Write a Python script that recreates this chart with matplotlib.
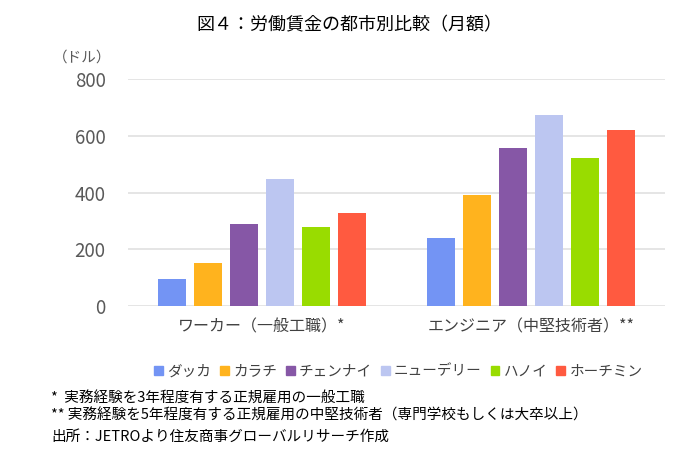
import numpy as np
import matplotlib.pyplot as plt
from matplotlib.patches import Patch

plt.rcParams['font.family'] = ['Noto Sans CJK JP', 'DejaVu Sans']

# データ
categories = ['ワーカー（一般工職）*', 'エンジニア（中堅技術者）**']
cities = ['ダッカ', 'カラチ', 'チェンナイ', 'ニューデリー', 'ハノイ', 'ホーチミン']
worker = [94, 150, 288, 448, 277, 328]
engineer = [240, 390, 556, 672, 520, 619]
colors = ['#7394F4', '#FFB31E', '#8657A6', '#BCC6F1', '#99DC00', '#FF5A40']
yticks = [0, 200, 400, 600, 800]

fig = plt.figure(figsize=(6.98, 4.49), dpi=100)
ax = fig.add_axes([0.183, 0.3185, 0.770, 0.5055])

x = np.arange(len(categories))
width = 0.104
pitch = 0.134
for i, c in enumerate(cities):
    vals = [worker[i], engineer[i]]
    ax.bar(x + (i - 2.5) * pitch, vals, width, color=colors[i], label=c, zorder=3)

ax.set_xlim(-0.5, 1.5)
ax.set_ylim(0, 800)
ax.set_yticks(yticks)
ax.set_yticklabels([str(v) for v in yticks], fontsize=13.5, color='#595959')
ax.set_xticks(x)
ax.set_xticklabels(categories, fontsize=11.5, color='#404040')
ax.tick_params(axis='both', length=0)
ax.tick_params(axis='x', pad=9)
ax.tick_params(axis='y', pad=16)
ax.grid(axis='y', color='#E0E0E0', lw=1.2, zorder=0)
for s in ax.spines.values():
    s.set_visible(False)

fig.text(0.5, 0.944, '図４：労働賃金の都市別比較（月額）', ha='center', va='center', fontsize=13)
fig.text(0.118, 0.871, '（ドル）', ha='center', va='center', fontsize=10.5, color='#595959')

handles = [Patch(color=colors[i], label=cities[i]) for i in range(len(cities))]
fig.legend(handles=handles, loc='center', bbox_to_anchor=(0.571, 0.173), ncol=6,
           frameon=False, fontsize=10.5, handlelength=0.6, handleheight=0.6,
           handletextpad=0.3, columnspacing=0.6, labelcolor='#404040')

fig.text(0.073, 0.111, '*  実務経験を3年程度有する正規雇用の一般工職', fontsize=10.5, va='center')
fig.text(0.073, 0.075, '** 実務経験を5年程度有する正規雇用の中堅技術者（専門学校もしくは大卒以上）', fontsize=10.5, va='center')
fig.text(0.073, 0.027, '出所：JETROより住友商事グローバルリサーチ作成', fontsize=10.5, va='center')

fig.savefig('out.png', dpi=100)
